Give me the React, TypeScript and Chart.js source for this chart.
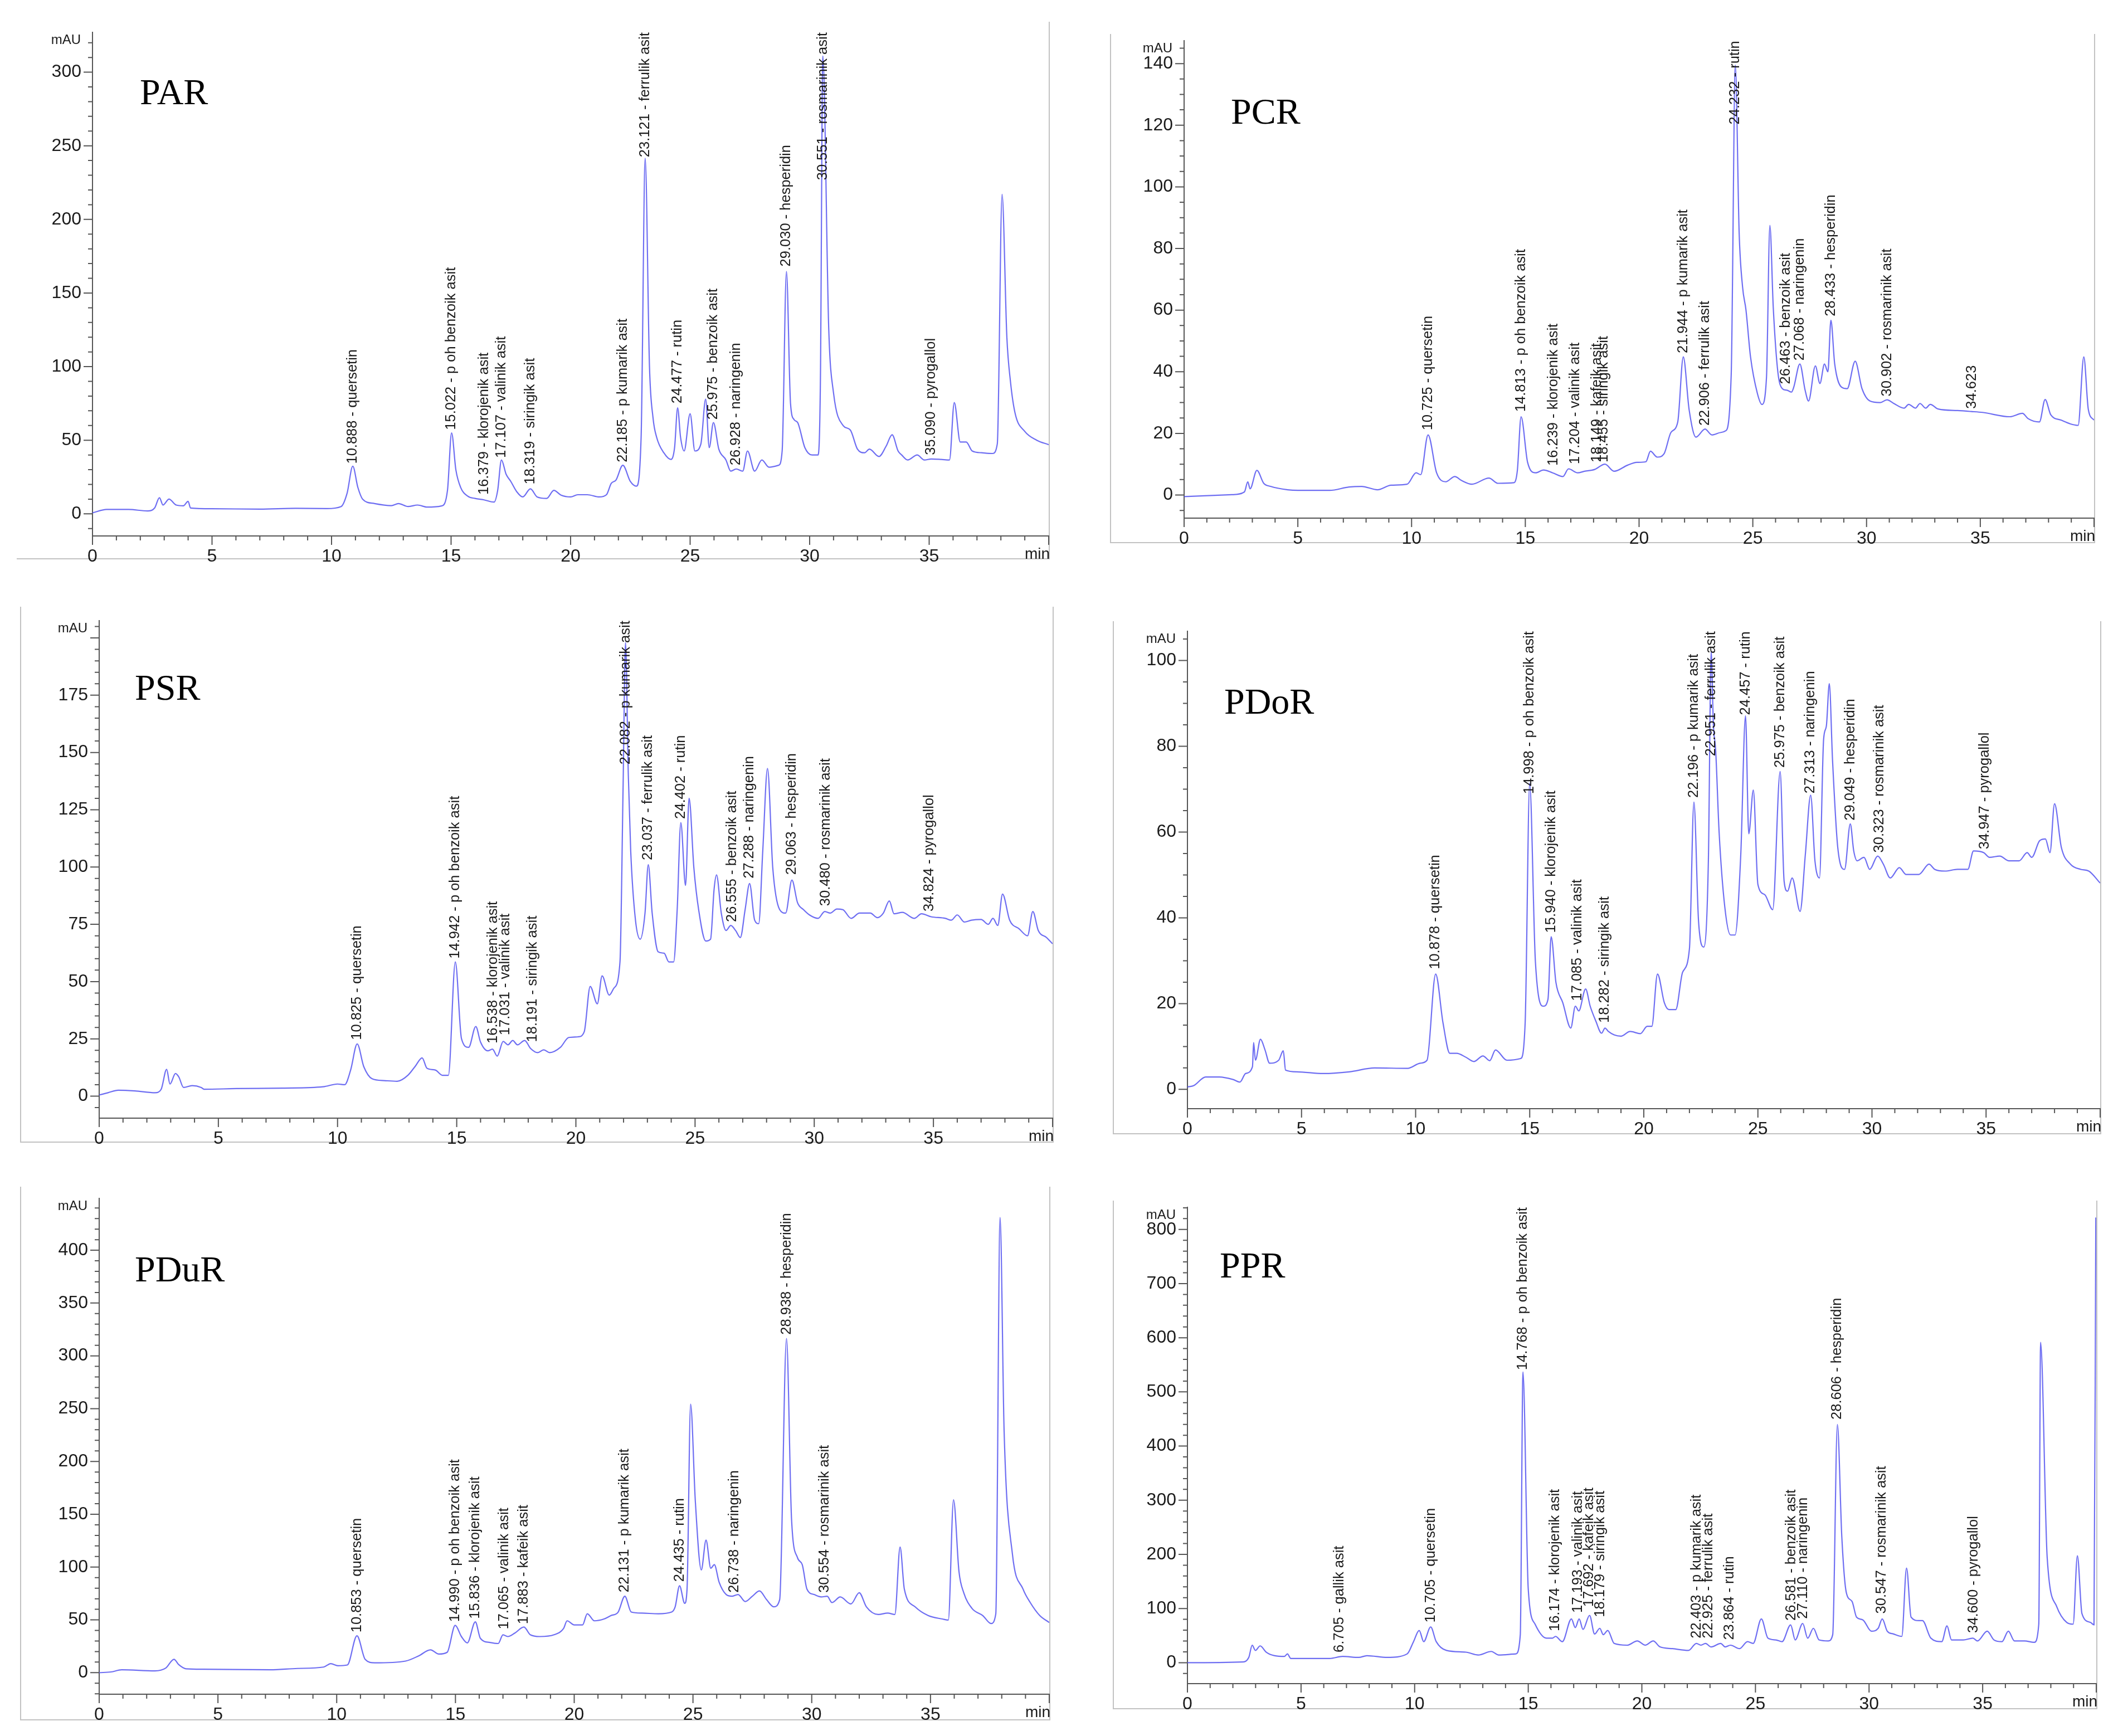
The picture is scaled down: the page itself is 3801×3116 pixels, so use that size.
import { useEffect, useRef } from 'react'
import { Chart, registerables } from 'chart.js'

Chart.register(...registerables)

// shared x axis (retention time, min)
const xTicks = [0, 5, 10, 15, 20, 25, 30, 35]

// ---- PAR ----
const parTrace = [[0,0.7],[0.6,3],[1.5,3],[2.3,2],[2.6,4],[2.8,11],[2.95,6],[3.2,10],[3.5,6],[3.8,5.5],[4.0,8.5],[4.1,4],[5,3.5],[7,3.2],[8.5,3.8],[9.8,3.6],[10.4,5],[10.65,14],[10.888,32.4],[11.1,18],[11.3,10],[11.8,7],[12.5,5.6],[12.8,7],[13.2,5],[13.6,6],[14.0,4.6],[14.6,5.4],[14.85,16],[15.022,55],[15.2,30],[15.4,18],[15.7,12],[16.0,10.5],[16.379,9.5],[16.8,8],[16.95,16],[17.107,36.6],[17.3,27],[17.5,22],[17.75,15],[18.0,11.5],[18.319,17],[18.6,11.5],[19.0,10.5],[19.3,16],[19.6,12.7],[20.0,11.5],[20.3,13],[20.7,13],[21.2,11.5],[21.5,13],[21.7,20.7],[21.9,23],[22.185,33],[22.5,22],[22.75,18.8],[22.95,52],[23.121,241.5],[23.3,100],[23.45,65],[23.6,52],[23.9,41.5],[24.2,37],[24.35,45],[24.477,72],[24.6,52],[24.75,42.7],[25.0,68],[25.2,42.7],[25.45,47.5],[25.65,78],[25.8,45],[25.975,62],[26.2,44],[26.5,36.6],[26.7,29],[26.928,30.5],[27.2,29],[27.4,42.7],[27.7,29],[28.0,36.6],[28.3,31.7],[28.7,33],[28.85,42.7],[29.03,164.6],[29.2,75],[29.35,64],[29.5,62],[29.8,45],[30.1,40],[30.35,40],[30.45,90],[30.551,311],[30.8,125],[31.0,82],[31.4,60],[31.7,57],[32.0,44],[32.3,41.5],[32.5,44],[32.9,39],[33.2,46],[33.45,53.7],[33.7,42.7],[33.85,40],[34.1,36.6],[34.5,40],[34.8,36.6],[35.09,37.3],[35.5,37],[35.85,36.6],[36.05,75.6],[36.3,48.8],[36.55,48.8],[36.8,42.7],[37.2,41.5],[37.65,41],[37.85,47.5],[38.05,217],[38.25,120],[38.4,90],[38.6,68],[39.0,56],[39.5,50],[40,47]]
// [retention time, compound, where the label starts (mAU)]
const parPeaks: [number, string, number][] = [[10.888,'quersetin',34],[15.022,'p oh benzoik asit',57],[16.379,'klorojenik asit',13],[17.107,'valinik asit',38],[18.319,'siringik asit',20],[22.185,'p kumarik asit',35],[23.121,'ferrulik asit',243],[24.477,'rutin',75],[25.975,'benzoik asit',64],[26.928,'naringenin',33],[29.030,'hesperidin',168],[30.551,'rosmarinik asit',311],[35.090,'pyrogallol',40]]
const parYTicks = [0, 50, 100, 150, 200, 250, 300]

// ---- PCR ----
const pcrTrace = [[0,-0.5],[2.1,0.1],[2.65,1],[2.8,4.3],[2.9,2],[3.2,8],[3.5,3.8],[3.8,2.8],[4.55,1.7],[5,1.5],[6.4,1.5],[7.25,2.6],[7.8,2.8],[8.5,1.7],[9.1,3.2],[9.8,3.5],[10.2,7.2],[10.4,6.6],[10.725,19.5],[11.1,7.2],[11.5,4.3],[11.9,6],[12.2,4.7],[12.65,3.5],[13.4,5.5],[13.8,3.8],[14.5,4],[14.65,8],[14.813,25.4],[15.1,10.6],[15.45,7.2],[15.8,8.1],[16.2,7.2],[16.65,6],[16.9,8.5],[17.3,7.2],[17.6,7.7],[18.05,8.3],[18.5,10],[18.9,7.7],[19.5,9.7],[19.9,10.6],[20.3,10.8],[20.5,14.2],[20.8,12.3],[21.1,13.4],[21.4,20.3],[21.7,23.7],[21.944,44.8],[22.2,27.7],[22.5,18.8],[22.9,21.4],[23.2,19.5],[23.6,20.3],[23.8,20.8],[24.05,39],[24.232,139.5],[24.4,85],[24.55,67.5],[24.7,60],[24.9,44.8],[25.2,33],[25.4,29.4],[25.6,38],[25.75,87.5],[25.9,60.7],[26.1,40],[26.3,34.5],[26.5,34],[26.7,33.4],[26.8,35],[27.068,42.5],[27.3,34],[27.45,30.5],[27.75,41.9],[27.95,36.2],[28.15,42.5],[28.3,40],[28.433,56.7],[28.6,42.5],[28.9,35],[29.15,34.5],[29.5,43.4],[29.8,34.5],[30.15,30.5],[30.6,30],[30.9,30.9],[31.2,29.7],[31.65,28.2],[31.85,29.4],[32.15,28.2],[32.35,29.7],[32.6,28.2],[32.8,29.4],[33.15,27.9],[34,27.4],[34.6,27.1],[35.1,26.8],[36.3,25.4],[36.85,26.5],[37.1,24.8],[37.6,23.7],[37.85,31],[38.1,26],[38.55,24.3],[38.95,23.1],[39.3,22.6],[39.55,44.8],[39.75,27.7],[40,24.3]]
const pcrPeaks: [number, string, number][] = [[10.725,'quersetin',21],[14.813,'p oh benzoik asit',27],[16.239,'klorojenik asit',9.5],[17.204,'valinik asit',10],[18.149,'kafeik asit',10.6],[18.455,'siringik asit',10.6],[21.944,'p kumarik asit',46],[22.906,'ferrulik asit',22.5],[24.232,'rutin',140],[26.463,'benzoik asit',36],[27.068,'naringenin',43.6],[28.433,'hesperidin',58],[30.902,'rosmarinik asit',32],[34.623,'',28]]
const pcrYTicks = [0, 20, 40, 60, 80, 100, 120, 140]

// ---- PSR ----
const psrTrace = [[0,0.5],[0.37,1.5],[0.8,2.6],[1.5,2.3],[2.35,1.5],[2.6,3],[2.83,11.7],[2.97,5.3],[3.2,9.9],[3.34,8.4],[3.54,3.8],[3.9,4.6],[4.28,3.8],[4.4,3],[5.75,3.3],[7.7,3.5],[9.4,4.1],[10,5.3],[10.3,5],[10.55,11.4],[10.825,22.8],[11.1,12.9],[11.45,7.6],[11.95,6.8],[12.5,6.5],[12.95,9.1],[13.25,12.9],[13.55,16.7],[13.75,12.2],[14.1,11.4],[14.4,9.1],[14.65,9.1],[14.942,58.6],[15.2,25.1],[15.5,21.3],[15.8,30.4],[16,23.6],[16.3,19.8],[16.5,20.5],[16.7,17.5],[16.95,23.9],[17.15,22.4],[17.35,24.3],[17.55,22.4],[17.85,24.3],[18.1,20.8],[18.4,19],[18.65,20.2],[18.9,19],[19.35,21.3],[19.7,25.6],[20.1,25.9],[20.35,28.1],[20.6,47.9],[20.9,40.3],[21.1,52.5],[21.4,44.1],[21.6,47.2],[21.85,58.6],[21.98,134.6],[22.082,198],[22.2,140],[22.3,107],[22.5,76.8],[22.7,68.5],[22.9,79.9],[23.037,101],[23.2,79.9],[23.45,63],[23.7,62.4],[23.9,58.6],[24.1,58.6],[24.25,81.4],[24.402,119.4],[24.6,92],[24.75,130],[24.95,99.6],[25.15,81.4],[25.45,67.7],[25.65,68.5],[25.8,90.5],[25.9,96.6],[26.1,79.9],[26.3,72.3],[26.5,74.5],[26.7,72.3],[26.9,69.2],[27.1,81.4],[27.288,92.8],[27.5,76.8],[27.67,75.3],[27.84,107],[28.04,143],[28.26,99.6],[28.55,81.4],[28.8,79.9],[29.063,94.3],[29.3,84.4],[29.55,81.4],[29.8,79.1],[30.16,77.6],[30.44,80.6],[30.67,79.9],[30.95,81.7],[31.2,81.4],[31.55,77.6],[31.9,79.9],[32.35,79.9],[32.65,77.9],[32.9,79.9],[33.15,85.2],[33.35,79.6],[33.7,80.2],[34.2,77.6],[34.5,79.6],[34.9,78.3],[35.5,77.6],[35.75,76.8],[36,79.1],[36.3,76],[36.6,76.8],[37,77.1],[37.3,75],[37.5,77.6],[37.7,74.5],[37.9,88.2],[38.2,76.8],[38.6,73],[38.95,70],[39.17,80.6],[39.4,72.3],[39.75,69.2],[40,66.5]]
const psrPeaks: [number, string, number][] = [[10.825,'quersetin',24.5],[14.942,'p oh benzoik asit',60],[16.538,'klorojenik asit',23],[17.031,'valinik asit',26.6],[18.191,'siringik asit',23.6],[22.082,'p kumarik asit',198],[23.037,'ferrulik asit',103],[24.402,'rutin',121],[26.555,'benzoik asit',76],[27.288,'naringenin',95],[29.063,'hesperidin',96.6],[30.480,'rosmarinik asit',83],[34.824,'pyrogallol',80.6]]
const psrYTicks = [0, 25, 50, 75, 100, 125, 150, 175]

// ---- PDoR ----
const pdorTrace = [[0,0.55],[0.28,0.9],[0.8,2.9],[1.4,2.9],[2,2.3],[2.3,1.7],[2.55,3.7],[2.85,5.3],[2.9,10.9],[2.98,6.8],[3.2,11.7],[3.4,9.2],[3.6,6.1],[4,6.8],[4.2,9],[4.3,4.5],[4.8,4.1],[5.95,3.7],[7.1,4.1],[8.2,5],[9.65,4.9],[10.2,6.1],[10.5,6.8],[10.878,26.9],[11.2,15.5],[11.5,8.4],[11.8,8.4],[12.2,7.5],[12.55,6.5],[12.95,7.8],[13.25,6.7],[13.5,9.2],[14,6.8],[14.6,7.2],[14.8,15.5],[14.998,71.4],[15.25,29.7],[15.6,19.4],[15.8,21],[15.94,35.6],[16.15,24.9],[16.45,20.2],[16.8,14.3],[17,19.4],[17.15,18.3],[17.45,23.4],[17.65,19.4],[17.9,15.9],[18.15,13.1],[18.3,14.3],[18.45,13.5],[18.7,12.7],[19,12.4],[19.4,13.5],[19.85,13],[20.15,14.7],[20.35,14.7],[20.6,26.9],[20.9,20.2],[21.1,18.6],[21.4,18.6],[21.7,27.3],[22,32.8],[22.196,67],[22.4,39.1],[22.63,33.2],[22.83,53.3],[22.951,102],[23.05,85],[23.15,79],[23.3,60],[23.55,42.5],[23.8,36],[24,36],[24.25,54.8],[24.457,87.1],[24.6,59.6],[24.8,69.8],[25,47.8],[25.3,45.4],[25.65,41.9],[25.975,74.1],[26.15,48.5],[26.3,46.2],[26.5,49.3],[26.85,41.5],[27.08,54.8],[27.313,68.6],[27.5,53.3],[27.7,49.3],[27.88,81.6],[28,84.7],[28.13,94.6],[28.27,76.9],[28.5,56.4],[28.8,51.3],[29.049,61.9],[29.2,55.6],[29.35,53.3],[29.65,54.1],[29.9,51.3],[30.25,54.4],[30.5,52.5],[30.8,49.3],[31.2,51.7],[31.5,50.1],[32.05,50.1],[32.5,52.5],[32.75,51.3],[33.2,50.9],[33.75,51.3],[34.2,51.3],[34.45,55.6],[34.9,55.2],[35.15,54.1],[35.6,54.4],[36,53.3],[36.45,53.3],[36.8,55.2],[37,54.1],[37.35,58],[37.6,58.4],[37.8,55.2],[38,66.6],[38.3,56.4],[38.7,52.5],[39.15,51.3],[39.5,50.9],[40,48.1]]
const pdorPeaks: [number, string, number][] = [[10.878,'quersetin',28],[14.998,'p oh benzoik asit',72.5],[15.940,'klorojenik asit',36.5],[17.085,'valinik asit',20.6],[18.282,'siringik asit',15.5],[22.196,'p kumarik asit',68],[22.951,'ferrulik asit',102],[24.457,'rutin',88],[25.975,'benzoik asit',75],[27.313,'naringenin',69],[29.049,'hesperidin',62.7],[30.323,'rosmarinik asit',55.2],[34.947,'pyrogallol',56]]
const pdorYTicks = [0, 20, 40, 60, 80, 100]

// ---- PDuR ----
const pdurTrace = [[0,0],[0.5,0.7],[0.95,2.7],[2.35,1.7],[2.8,4.3],[3.15,12.6],[3.35,7.6],[3.65,3.7],[4.35,3.3],[7.2,2.7],[8.35,4],[9.45,5.3],[9.75,8.6],[10.05,6.6],[10.45,7.3],[10.853,34.9],[11.2,12.6],[11.6,9.3],[12.9,11],[13.45,15.9],[13.95,21.6],[14.3,17.6],[14.65,19.3],[14.99,44.8],[15.25,34.2],[15.5,28.2],[15.836,48.1],[16.05,32.5],[16.45,28.6],[16.8,27.6],[17.0,35.9],[17.2,34.2],[17.5,37.5],[17.883,43.2],[18.15,35.9],[18.55,34.2],[19.15,35.9],[19.55,41.8],[19.7,49.1],[20,45.2],[20.35,45.2],[20.55,55.8],[20.85,49.1],[21.25,50.8],[21.55,54.1],[21.85,57.4],[22.131,72.4],[22.4,57.4],[22.85,56.4],[23.55,55.8],[24.1,57.4],[24.25,62.4],[24.435,82.3],[24.65,65.7],[24.75,79],[24.9,254.3],[25.1,162],[25.35,97.3],[25.55,125.5],[25.75,98.9],[25.9,102.3],[26.1,85.7],[26.4,74],[26.65,72.4],[26.9,74],[27.2,67.4],[27.5,72.4],[27.8,77.4],[28.1,69.1],[28.4,62.4],[28.65,69.1],[28.938,316.4],[29.15,145.4],[29.4,108.9],[29.6,102.3],[29.8,79],[30.1,74],[30.4,71.7],[30.65,72.4],[30.85,66.4],[31.2,71.7],[31.65,65.1],[32,75.7],[32.3,62.4],[32.8,55.1],[33.2,56.4],[33.5,55.1],[33.72,118.9],[33.9,79],[34.35,62.4],[34.9,54.1],[35.5,50.8],[35.75,49.8],[35.97,163.7],[36.2,95.6],[36.4,75.7],[36.75,60.8],[37.2,54.1],[37.55,46.5],[37.75,55.8],[37.93,431],[38.1,228.4],[38.45,112.2],[38.9,79],[39.2,66.4],[39.6,54.1],[40,47.5]]
const pdurPeaks: [number, string, number][] = [[10.853,'quersetin',38],[14.990,'p oh benzoik asit',48],[15.836,'klorojenik asit',51],[17.065,'valinik asit',41],[17.883,'kafeik asit',46],[22.131,'p kumarik asit',76],[24.435,'rutin',86],[26.738,'naringenin',75.7],[28.938,'hesperidin',320],[30.554,'rosmarinik asit',75.7]]
const pdurYTicks = [0, 50, 100, 150, 200, 250, 300, 350, 400]

// ---- PPR ----
const pprTrace = [[0,0],[2.4,1.3],[2.7,9.7],[2.85,32.3],[2.99,22.6],[3.2,31],[3.47,19.4],[3.84,12.9],[4.27,11.6],[4.4,16.2],[4.55,7.8],[6.26,7.8],[6.83,11.6],[7.54,9.7],[7.9,12.9],[8.8,9.7],[9.67,16.2],[9.95,38.8],[10.2,59.5],[10.4,38.8],[10.705,66],[10.95,38.8],[11.4,22.6],[12.25,19.4],[12.8,14.2],[13.37,20.7],[13.7,14.2],[14.45,16.2],[14.65,51.7],[14.768,536.8],[15,135.8],[15.3,71.1],[15.8,45.3],[16.07,45.3],[16.2,48.5],[16.5,38.8],[16.9,80.8],[17.07,64.7],[17.24,80.8],[17.41,61.4],[17.7,87.3],[17.92,53],[18.15,63.4],[18.3,51.7],[18.5,59.5],[18.78,35.6],[19.35,32.3],[19.8,40.1],[20.15,32.3],[20.5,40.1],[20.8,29.1],[21.35,25.9],[22.05,22.6],[22.4,35.6],[22.6,32.3],[22.8,35.6],[23.05,29.1],[23.47,35.6],[23.67,29.1],[23.9,32.3],[24.3,25.9],[24.65,38.8],[24.9,35.6],[25.26,80.8],[25.55,45.3],[25.9,42],[26.17,38.8],[26.55,69.8],[26.75,42],[27.08,72.4],[27.3,45.3],[27.55,63.4],[27.8,42],[28.2,40.1],[28.4,51.7],[28.606,439.8],[28.8,232.8],[29,129.3],[29.25,113.2],[29.45,84],[29.73,78.9],[30.1,58.2],[30.4,63.4],[30.58,80.8],[30.8,58.2],[31.07,53],[31.44,48.5],[31.65,174.6],[31.85,84],[32.2,77.6],[32.35,77.6],[32.72,45.3],[33.2,38.8],[33.43,67.9],[33.63,42],[34.14,42],[34.57,45.3],[34.77,40.1],[35.2,58.2],[35.5,42],[35.85,38.8],[36.13,58.2],[36.4,40.1],[36.84,40.1],[37.27,37.5],[37.47,71.1],[37.55,591.7],[37.84,194],[38.26,103.5],[38.7,74.4],[38.98,71.1],[39.17,197.2],[39.37,90.5],[39.74,74.4],[39.9,70],[39.98,822]]
const pprPeaks: [number, string, number][] = [[6.705,'gallik asit',19],[10.705,'quersetin',74],[14.768,'p oh benzoik asit',546],[16.174,'klorojenik asit',58],[17.193,'valinik asit',92],[17.692,'kafeik asit',103],[18.179,'siringik asit',84],[22.403,'p kumarik asit',45],[22.925,'ferrulik asit',45],[23.864,'rutin',42],[26.581,'benzoik asit',77.6],[27.110,'naringenin',81],[28.606,'hesperidin',449],[30.547,'rosmarinik asit',90.5],[34.600,'pyrogallol',55]]
const pprYTicks = [0, 100, 200, 300, 400, 500, 600, 700, 800]

type Peak = [number, string, number]
type Panel = {
  title: string
  trace: number[][]
  peaks: Peak[]
  yTicks: number[]
  yMin: number
  yMax: number
  yMinor: number
  area: { left: number; top: number; right: number; bottom: number }
  titleAt: [number, number]
  frame: { x0: number; y0: number; x1: number; y1: number; leftSide: boolean }
}

const PANELS: Panel[] = [
  { title: 'PAR', trace: parTrace, peaks: parPeaks, yTicks: parYTicks, yMin: -15, yMax: 327, yMinor: 10,
    area: { left: 166, top: 49, right: 1882, bottom: 962 }, titleAt: [251, 144],
    frame: { x0: 30, y0: 39, x1: 1882, y1: 1002, leftSide: false } },
  { title: 'PCR', trace: pcrTrace, peaks: pcrPeaks, yTicks: pcrYTicks, yMin: -7.5, yMax: 147.4, yMinor: 5,
    area: { left: 2125, top: 64, right: 3758, bottom: 930 }, titleAt: [2209, 179],
    frame: { x0: 1992, y0: 61, x1: 3758, y1: 973, leftSide: true } },
  { title: 'PSR', trace: psrTrace, peaks: psrPeaks, yTicks: psrYTicks, yMin: -9.6, yMax: 207.5, yMinor: 5,
    area: { left: 178, top: 1105, right: 1889, bottom: 2007 }, titleAt: [242, 1213],
    frame: { x0: 36, y0: 1089, x1: 1889, y1: 2049, leftSide: true } },
  { title: 'PDoR', trace: pdorTrace, peaks: pdorPeaks, yTicks: pdorYTicks, yMin: -4.5, yMax: 106.8, yMinor: 5,
    area: { left: 2131, top: 1124, right: 3769, bottom: 1990 }, titleAt: [2197, 1238],
    frame: { x0: 1997, y0: 1115, x1: 3769, y1: 2034, leftSide: true } },
  { title: 'PDuR', trace: pdurTrace, peaks: pdurPeaks, yTicks: pdurYTicks, yMin: -20.4, yMax: 449, yMinor: 10,
    area: { left: 178, top: 2142, right: 1883, bottom: 3041 }, titleAt: [242, 2257],
    frame: { x0: 36, y0: 2130, x1: 1883, y1: 3086, leftSide: true } },
  { title: 'PPR', trace: pprTrace, peaks: pprPeaks, yTicks: pprYTicks, yMin: -38.7, yMax: 840.7, yMinor: 20,
    area: { left: 2131, top: 2158, right: 3762, bottom: 3022 }, titleAt: [2189, 2250],
    frame: { x0: 1997, y0: 2155, x1: 3762, y1: 3066, leftSide: true } },
]

const NARROW = "'Liberation Sans Narrow', 'Arial Narrow', 'Liberation Sans', Arial, sans-serif"
const SANS = "'Liberation Sans', Arial, sans-serif"
const TRACE = 'rgba(85, 85, 240, 0.85)'
const AXIS = '#555555'
const TEXT = '#1a1a1a'
const FRAME = '#c2c2c2'
const TICK_FONT = 32

const AXIS_W = 120
const AXIS_H = 64
const PAD_TOP = 30
const PAD_RIGHT = 40

function decorations(p: Panel) {
  return {
    id: 'decor' + p.title,
    afterDraw(chart: any) {
      const ctx = chart.ctx as CanvasRenderingContext2D
      const xs = chart.scales.x
      const ys = chart.scales.y
      const { left, right, top, bottom } = chart.chartArea
      const yMajor = p.yTicks[1] - p.yTicks[0]
      ctx.save()
      ctx.strokeStyle = AXIS
      ctx.lineWidth = 2
      ctx.beginPath()
      for (let t = 0; t <= 40; t++) {
        const px = xs.getPixelForValue(t)
        const len = t % 5 === 0 ? 16 : 8
        ctx.moveTo(px, bottom)
        ctx.lineTo(px, bottom + len)
      }
      for (let k = Math.ceil(p.yMin / p.yMinor); k * p.yMinor <= p.yMax; k++) {
        const v = k * p.yMinor
        const py = ys.getPixelForValue(v)
        const len = v % yMajor === 0 ? 16 : 8
        ctx.moveTo(left, py)
        ctx.lineTo(left - len, py)
      }
      ctx.stroke()

      ctx.fillStyle = TEXT
      ctx.textBaseline = 'middle'
      ctx.textAlign = 'right'
      ctx.font = `24px ${NARROW}`
      ctx.fillText('mAU', left - 21, top + 14)
      ctx.font = `${TICK_FONT - 4}px ${NARROW}`
      ctx.fillText('min', right + 2, bottom + 33)

      ctx.font = `25.5px ${SANS}`
      ctx.textAlign = 'left'
      for (const [t, name, at] of p.peaks) {
        const text = name ? `${t.toFixed(3)} - ${name}` : t.toFixed(3)
        const w = ctx.measureText(text).width
        const px = xs.getPixelForValue(t)
        const py = Math.max(ys.getPixelForValue(at), top + w)
        ctx.save()
        ctx.translate(px, py)
        ctx.rotate(-Math.PI / 2)
        ctx.fillText(text, 0, 0)
        ctx.restore()
      }
      ctx.restore()
    },
  }
}

function ChromPanel({ p }: { p: Panel }) {
  const canvasRef = useRef<HTMLCanvasElement>(null)
  const width = p.area.right - p.area.left + AXIS_W + PAD_RIGHT
  const height = p.area.bottom - p.area.top + PAD_TOP + AXIS_H

  useEffect(() => {
    if (!canvasRef.current) return
    const chart = new Chart(canvasRef.current, {
      type: 'line',
      data: {
        datasets: [{
          data: p.trace.map(([x, y]) => ({ x, y })),
          borderColor: TRACE,
          borderWidth: 2.2,
          pointRadius: 0,
          cubicInterpolationMode: 'monotone',
          fill: false,
        }],
      },
      options: {
        animation: false,
        responsive: false,
        devicePixelRatio: 1,
        events: [],
        layout: { padding: { top: PAD_TOP, right: PAD_RIGHT, left: 0, bottom: 0 }, autoPadding: false },
        plugins: { legend: { display: false }, tooltip: { enabled: false } },
        scales: {
          x: {
            type: 'linear',
            min: 0,
            max: 40,
            afterBuildTicks: (s: any) => { s.ticks = xTicks.map((value) => ({ value })) },
            afterFit: (s: any) => { s.height = AXIS_H },
            grid: { display: false, drawTicks: false },
            border: { display: true, color: AXIS, width: 2 },
            ticks: { padding: 18, color: TEXT, font: { family: NARROW, size: TICK_FONT }, maxRotation: 0, autoSkip: false, callback: (v: any) => String(v) },
          },
          y: {
            type: 'linear',
            min: p.yMin,
            max: p.yMax,
            afterBuildTicks: (s: any) => { s.ticks = p.yTicks.map((value) => ({ value })) },
            afterFit: (s: any) => { s.width = AXIS_W },
            grid: { display: false, drawTicks: false },
            border: { display: true, color: AXIS, width: 2 },
            ticks: { padding: 20, color: TEXT, font: { family: NARROW, size: TICK_FONT }, autoSkip: false, callback: (v: any) => String(v) },
          },
        },
      } as any,
      plugins: [decorations(p)],
    })
    return () => chart.destroy()
  }, [p])

  const f = p.frame
  return (
    <>
      {f.leftSide && <div style={{ position: 'absolute', left: f.x0, top: f.y0, width: 2, height: f.y1 - f.y0, background: FRAME }} />}
      <div style={{ position: 'absolute', left: f.x0, top: f.y1, width: f.x1 - f.x0 + 2, height: 2, background: FRAME }} />
      <div style={{ position: 'absolute', left: f.x1, top: f.y0, width: 2, height: f.y1 - f.y0, background: FRAME }} />
      <canvas
        ref={canvasRef}
        width={width}
        height={height}
        style={{ position: 'absolute', left: p.area.left - AXIS_W, top: p.area.top - PAD_TOP, width, height }}
      />
      <div style={{ position: 'absolute', left: p.titleAt[0], top: p.titleAt[1] - 12, fontFamily: "'Liberation Serif', 'Times New Roman', serif", fontSize: 66, lineHeight: '66px', color: '#000', whiteSpace: 'nowrap' }}>
        {p.title}
      </div>
    </>
  )
}

export default function App() {
  return (
    <div style={{ position: 'absolute', left: 0, top: 0, width: 3801, height: 3116, overflow: 'hidden', background: '#fff' }}>
      {PANELS.map((p) => <ChromPanel key={p.title} p={p} />)}
    </div>
  )
}
